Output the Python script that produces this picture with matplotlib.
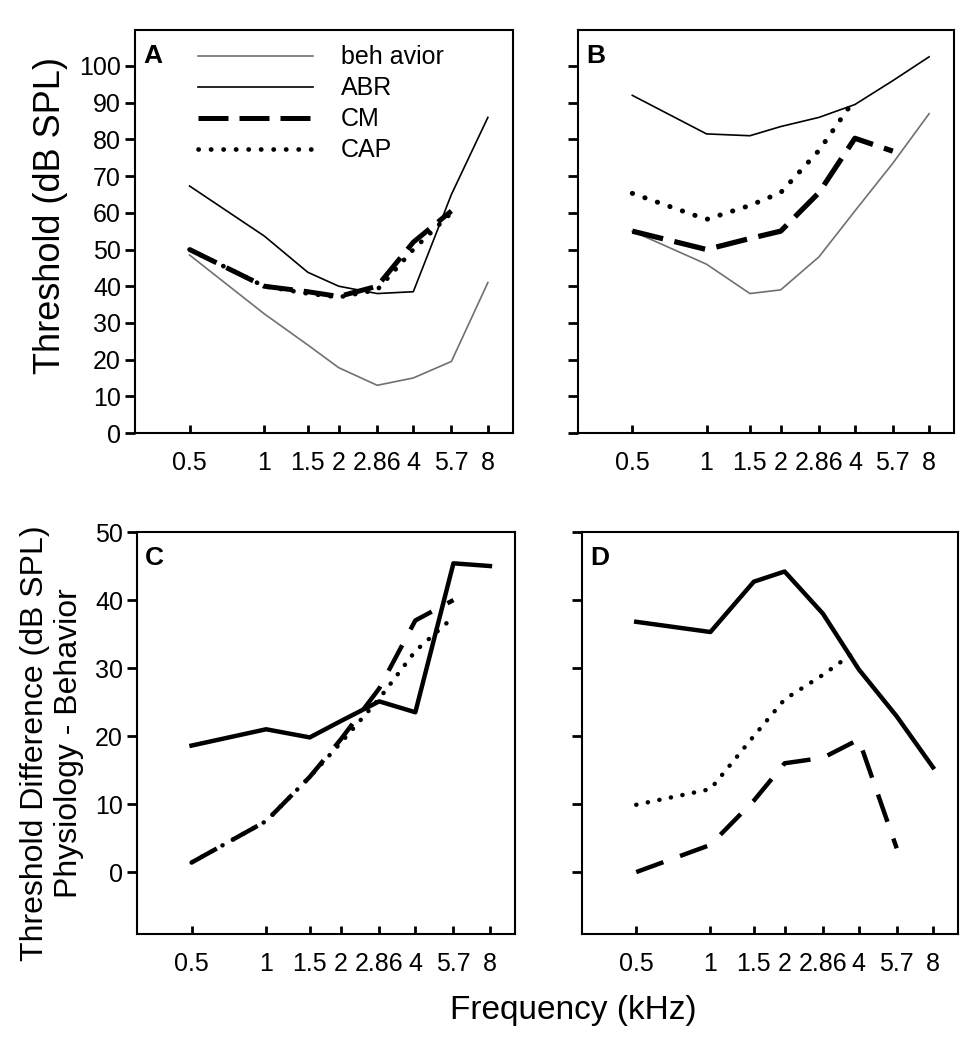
"""Hearing thresholds: behavior vs physiology (ABR, CM, CAP), four panels."""

import matplotlib
matplotlib.use('Agg')
import matplotlib.pyplot as plt
from matplotlib.ticker import FixedLocator, NullFormatter, NullLocator

plt.rcParams['font.family'] = ['Liberation Sans', 'DejaVu Sans']

freqs = [0.5, 1, 1.5, 2, 2.86, 4, 5.7, 8]
freq_labels = ['0.5', '1', '1.5', '2', '2.86', '4', '5.7', '8']

# panel A: thresholds, first group
beh_a = [48.5, 32.5, 24, 17.8, 13, 15, 19.5, 41]
abr_a = [67.3, 53.7, 43.8, 40, 38, 38.5, 65, 86]
cm_a = [50, 40, 38.5, 37.2, 40, 52, 60.5]
cap_a = [50, 40, 38, 37, 39, 50, 60]

# panel B: thresholds, second group
beh_b = [55, 46, 38, 39, 48, 60.5, 73.5, 87]
abr_b = [92, 81.5, 81, 83.5, 86, 89.5, 96, 102.5]
cm_b = [55, 50, 53, 55, 65.5, 80.3, 76.8]
cap_b = [65.3, 58.2, 62, 65.5, 77, 91]

# panels C and D: physiology minus behavior
abr_c = [18.6, 21, 19.8, 22.2, 25.1, 23.5, 45.4, 45]
cm_c = [1.4, 7.5, 14, 19.5, 27, 37, 40]
cap_c = [1.4, 7.5, 14, 19, 25.5, 32.5, 37.5]

abr_d = [36.8, 35.3, 42.7, 44.2, 38, 29.8, 22.9, 15.4]
cm_d = [0, 4, 10.5, 16, 16.8, 19.5, 3.5]
cap_d = [9.9, 12.2, 20, 25.4, 29, 32.8]

GRAY = '#707070'
CM_DASH = (0, (6.0, 2.2))
CM_DASH_BOTTOM = (0, (6.5, 4))
CAP_DOT = (0, (0.05, 2.6))

fig = plt.figure(figsize=(9.78, 10.5), dpi=100)
ax_a = fig.add_axes([0.138, 0.5876, 0.3865, 0.3838])
ax_b = fig.add_axes([0.591, 0.5876, 0.3845, 0.3838])
ax_c = fig.add_axes([0.140, 0.1105, 0.3866, 0.3828])
ax_d = fig.add_axes([0.595, 0.1105, 0.3845, 0.3828])


def style_axis(ax, ylim, yticks, letter, show_ylabels):
    ax.set_xscale('log', base=2)
    ax.set_xlim(0.301, 10.1)
    ax.xaxis.set_major_locator(FixedLocator(freqs))
    ax.xaxis.set_minor_locator(NullLocator())
    ax.set_xticklabels(freq_labels)
    ax.set_ylim(*ylim)
    ax.set_yticks(yticks)
    if not show_ylabels:
        ax.yaxis.set_major_formatter(NullFormatter())
    ax.tick_params(axis='x', direction='in', length=6, width=2, pad=13,
                   labelsize=18, bottom=True, top=False)
    ax.tick_params(axis='y', direction='out', length=7, width=2, pad=3,
                   labelsize=18, left=True, right=False)
    for sp in ax.spines.values():
        sp.set_linewidth(1.5)
    ax.text(0.022, 0.965, letter, transform=ax.transAxes, ha='left', va='top',
            fontsize=19, fontweight='bold')


# top row
ax_a.plot(freqs, beh_a, color=GRAY, lw=1.2, label='beh avior')
ax_a.plot(freqs, abr_a, color='black', lw=1.2, label='ABR')
ax_a.plot(freqs[:7], cm_a, color='black', lw=3.6, linestyle=CM_DASH, label='CM')
ax_a.plot(freqs[:7], cap_a, color='black', lw=3.4, linestyle=CAP_DOT,
          dash_capstyle='round', label='CAP')
style_axis(ax_a, (0, 109.8), range(0, 101, 10), 'A', True)
ax_a.legend(loc='upper left', bbox_to_anchor=(0.167, 0.962), frameon=False,
            fontsize=18, handlelength=4.6, handletextpad=1.1, labelspacing=0.28,
            borderpad=0, borderaxespad=0)

ax_b.plot(freqs, beh_b, color=GRAY, lw=1.2)
ax_b.plot(freqs, abr_b, color='black', lw=1.2)
ax_b.plot(freqs[:7], cm_b, color='black', lw=3.8, linestyle=CM_DASH)
ax_b.plot(freqs[:6], cap_b, color='black', lw=3.6, linestyle=CAP_DOT,
          dash_capstyle='round')
style_axis(ax_b, (0, 109.8), range(0, 101, 10), 'B', False)

# bottom row
ax_c.plot(freqs, abr_c, color='black', lw=3.2)
ax_c.plot(freqs[:7], cm_c, color='black', lw=3.2, linestyle=CM_DASH_BOTTOM)
ax_c.plot(freqs[:7], cap_c, color='black', lw=3.2, linestyle=CAP_DOT,
          dash_capstyle='round')
style_axis(ax_c, (-9.1, 50), range(0, 51, 10), 'C', True)

ax_d.plot(freqs, abr_d, color='black', lw=3.2)
ax_d.plot(freqs[:7], cm_d, color='black', lw=3.2, linestyle=CM_DASH_BOTTOM)
ax_d.plot(freqs[:6], cap_d, color='black', lw=3.2, linestyle=CAP_DOT,
          dash_capstyle='round')
style_axis(ax_d, (-9.1, 50), range(0, 51, 10), 'D', False)

fig.text(0.052, 0.795, 'Threshold (dB SPL)', rotation=90, ha='center',
         va='center', fontsize=26)
fig.text(0.053, 0.292, 'Threshold Difference (dB SPL)\nPhysiology - Behavior',
         rotation=90, ha='center', va='center', fontsize=23, linespacing=1.15)
fig.text(0.586, 0.038, 'Frequency (kHz)', ha='center', va='center', fontsize=24)

fig.savefig('out.png', dpi=100)
